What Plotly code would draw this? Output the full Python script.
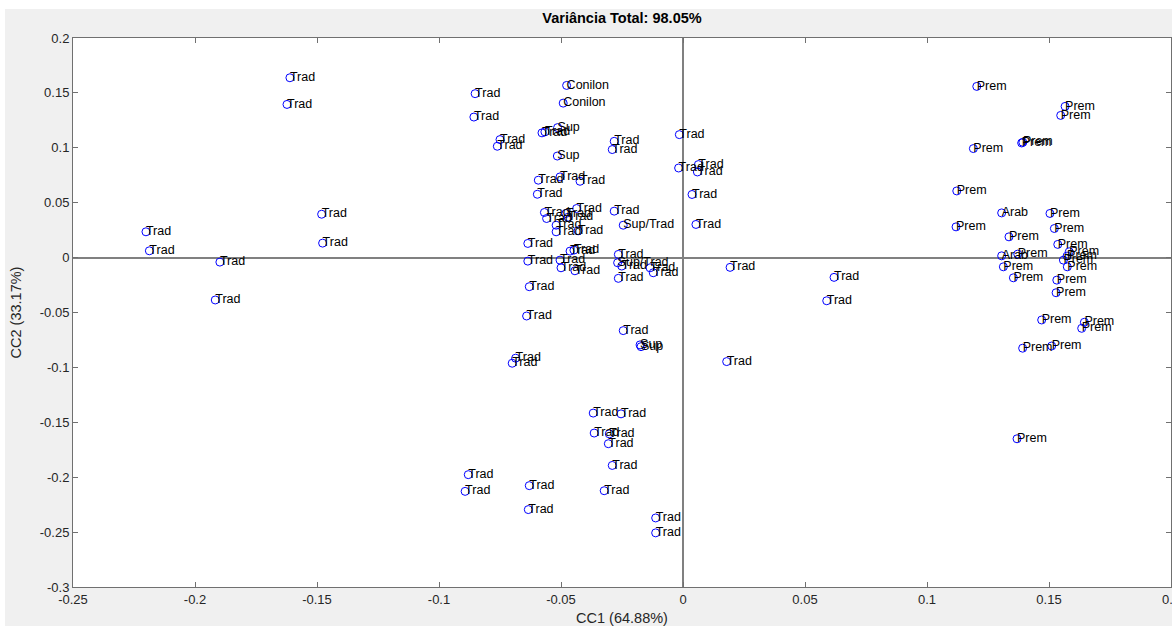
import plotly.graph_objects as go

# ---- data (CC1, CC2, label) ----
cc1 = [
    -0.1611, -0.1623, -0.1481, -0.1477, -0.2201, -0.2187, -0.1898, -0.1917,
    -0.0852, -0.0857, -0.0750, -0.0761,
    -0.0477, -0.0491, -0.0514, -0.0578, -0.0566, -0.0282, -0.0290, -0.0015,
    -0.0515, -0.0018, 0.0063, 0.0059, 0.0037, -0.0593, -0.0504, -0.0422, -0.0597,
    -0.0568, -0.0559, -0.0480, -0.0471, -0.0520, -0.0520, -0.0430, -0.0436,
    -0.0282, -0.0245, 0.0053, -0.0636, -0.0463, -0.0447, -0.0636, -0.0504,
    -0.0500, -0.0443, -0.0265, -0.0268, -0.0251, -0.0135, -0.0122, -0.0265,
    -0.0630, 0.0193,
    -0.0641, -0.0245, -0.0176, -0.0172, -0.0686, -0.0700, 0.0179,
    -0.0368, -0.0254, -0.0364, -0.0302, -0.0306, -0.0290, -0.0323, -0.0112, -0.0112,
    -0.0880, -0.0893, -0.0630, -0.0634,
    0.0619, 0.0589,
    0.1204, 0.1566, 0.1548, 0.1388, 0.1393, 0.1190, 0.1122, 0.1306, 0.1504,
    0.1119, 0.1522, 0.1336, 0.1536, 0.1583, 0.1372, 0.1306, 0.1559, 0.1574,
    0.1313, 0.1575, 0.1354, 0.1532, 0.1529, 0.1470, 0.1645, 0.1634, 0.1511,
    0.1392, 0.1369,
]
cc2 = [
    0.1638, 0.1395, 0.0395, 0.0132, 0.0235, 0.0062, -0.0041, -0.0386,
    0.1493, 0.1280, 0.1075, 0.1014,
    0.1568, 0.1407, 0.1184, 0.1136, 0.1145, 0.1059, 0.0984, 0.1120,
    0.0925, 0.0816, 0.0847, 0.0780, 0.0575, 0.0705, 0.0735, 0.0695, 0.0577,
    0.0411, 0.0356, 0.0402, 0.0368, 0.0295, 0.0235, 0.0244, 0.0447,
    0.0423, 0.0295, 0.0302, 0.0129, 0.0059, 0.0068, -0.0032, -0.0023,
    -0.0093, -0.0120, 0.0029, -0.0047, -0.0077, -0.0093, -0.0138, -0.0189,
    -0.0265, -0.0089,
    -0.0532, -0.0665, -0.0795, -0.0811, -0.0916, -0.0962, -0.0947,
    -0.1416, -0.1423, -0.1598, -0.1605, -0.1695, -0.1893, -0.2123, -0.2371, -0.2507,
    -0.1977, -0.2129, -0.2077, -0.2295,
    -0.0180, -0.0393,
    0.1559, 0.1377, 0.1295, 0.1044, 0.1050, 0.0993, 0.0607, 0.0407, 0.0402,
    0.0280, 0.0265, 0.0189, 0.0120, 0.0053, 0.0032, 0.0016, -0.0023, 0.0014,
    -0.0084, -0.0084, -0.0184, -0.0205, -0.0320, -0.0568, -0.0589, -0.0644, -0.0805,
    -0.0825, -0.1650,
]
labels = (
    ["Trad"] * 8
    + ["Trad"] * 4
    + ["Conilon", "Conilon", "Sup", "Trad", "Trad", "Trad", "Trad", "Trad",
       "Sup", "Trad", "Trad", "Trad", "Trad", "Trad", "Trad", "Trad", "Trad"]
    + ["Trad"] * 8
    + ["Trad", "Sup/Trad", "Trad", "Trad", "Trad", "Trad", "Trad", "Trad",
       "Trad", "Trad", "Trad", "Sup/Trad", "Trad", "Trad", "Trad", "Trad",
       "Trad", "Trad"]
    + ["Trad", "Trad", "Sup", "Sup", "Trad", "Trad", "Trad"]
    + ["Trad"] * 9
    + ["Trad"] * 4
    + ["Trad", "Trad"]
    + ["Prem", "Prem", "Prem", "Prem", "Prem", "Prem", "Prem", "Arab", "Prem",
       "Prem", "Prem", "Prem", "Prem", "Prem", "Prem", "Arab", "Prem", "Prem",
       "Prem", "Prem", "Prem", "Prem", "Prem", "Prem", "Prem", "Prem", "Prem",
       "Prem", "Prem"]
)

x_ticks = [-0.25, -0.2, -0.15, -0.1, -0.05, 0, 0.05, 0.1, 0.15, 0.2]
x_ticktext = ["-0.25", "-0.2", "-0.15", "-0.1", "-0.05", "0", "0.05", "0.1", "0.15", "0.2"]
y_ticks = [0.2, 0.15, 0.1, 0.05, 0, -0.05, -0.1, -0.15, -0.2, -0.25, -0.3]
y_ticktext = ["0.2", "0.15", "0.1", "0.05", "0", "-0.05", "-0.1", "-0.15", "-0.2", "-0.25", "-0.3"]

FONT = "Liberation Sans, Arial, sans-serif"

fig = go.Figure()
fig.add_trace(go.Scatter(
    x=cc1, y=cc2, mode="markers",
    marker=dict(symbol="circle-open", size=8, color="#0000ff", line=dict(width=1)),
    hoverinfo="skip", showlegend=False,
))
fig.add_trace(go.Scatter(
    x=cc1, y=cc2, mode="text", text=labels, textposition="middle right",
    marker=dict(size=0.1),
    textfont=dict(family=FONT, size=12.5, color="#000000"),
    hoverinfo="skip", showlegend=False,
))

axis_common = dict(
    showline=True, linecolor="#707070", linewidth=1, mirror="ticks",
    ticks="inside", ticklen=5, tickcolor="#707070",
    showgrid=False, zeroline=True, zerolinecolor="#808080", zerolinewidth=1.5,
    tickfont=dict(family=FONT, size=13, color="#262626"),
    ticklabeloverflow="allow", automargin=False,
)

fig.update_layout(
    width=1172, height=626,
    margin=dict(l=73, r=1, t=38, b=39, autoexpand=False),
    paper_bgcolor="#f0f0f0", plot_bgcolor="#ffffff",
    title=dict(text="<b>Variância Total: 98.05%</b>", x=0.5, xanchor="center",
               xref="paper", yref="container", y=1 - 18 / 626, yanchor="middle",
               font=dict(family=FONT, size=14.5, color="#000000")),
    xaxis=dict(range=[-0.25, 0.2], tickvals=x_ticks, ticktext=x_ticktext,
               title=dict(text="CC1 (64.88%)", standoff=7,
                          font=dict(family=FONT, size=14.5, color="#262626")),
               **axis_common),
    yaxis=dict(range=[-0.3, 0.2], tickvals=y_ticks, ticktext=y_ticktext,
               title=dict(text="CC2 (33.17%)", standoff=14,
                          font=dict(family=FONT, size=14.5, color="#262626")),
               **axis_common),
    shapes=[
        dict(type="rect", xref="paper", yref="paper", x0=-0.07, x1=1.01,
             y0=(587 - 9) / 549, y1=1.08, fillcolor="#ffffff", line_width=0, layer="below"),
        dict(type="rect", xref="paper", yref="paper", x0=-0.07, x1=(5 - 73) / 1098,
             y0=-0.08, y1=1.08, fillcolor="#ffffff", line_width=0, layer="below"),
    ],
)

fig.write_html("out.html")
